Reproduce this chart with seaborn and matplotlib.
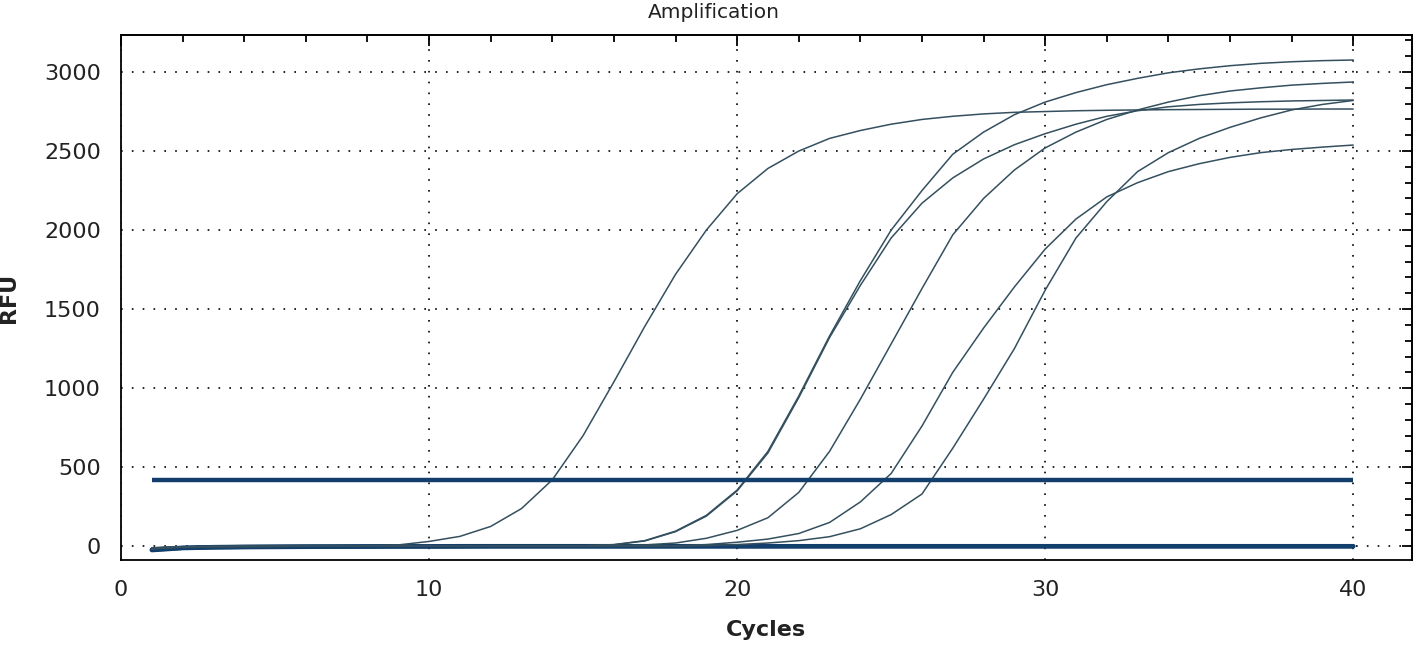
import matplotlib
matplotlib.use("Agg")
import matplotlib.pyplot as plt
import seaborn as sns
import pandas as pd
from matplotlib.ticker import MultipleLocator, NullFormatter

# ---------------- data ----------------
cycles = list(range(1, 41))

well_a = [-18, -6, -3, -2, -1, 0, 1, 2, 8, 30, 62, 125, 238, 420, 700, 1040, 1390, 1720, 2000, 2230,
          2390, 2500, 2580, 2630, 2670, 2700, 2720, 2735, 2745, 2750, 2755, 2758, 2760, 2762, 2763, 2764, 2765, 2765, 2766, 2766]
well_b = [-15, -5, -3, -2, -1, 0, 0, 0, 0, 0, 0, 0, 0, 1, 2, 10, 35, 95, 195, 355,
          600, 950, 1330, 1680, 2000, 2250, 2480, 2620, 2730, 2810, 2870, 2920, 2960, 2995, 3020, 3040, 3055, 3065, 3072, 3076]
well_c = [-14, -5, -3, -2, -1, 0, 0, 0, 0, 0, 0, 0, 0, 1, 2, 9, 33, 92, 190, 350,
          590, 940, 1320, 1650, 1950, 2170, 2330, 2450, 2540, 2610, 2670, 2720, 2755, 2780, 2795, 2805, 2812, 2817, 2820, 2823]
well_d = [-12, -4, -2, -1, -1, 0, 0, 0, 0, 0, 0, 0, 0, 0, 0, 2, 8, 20, 50, 100,
          180, 340, 600, 930, 1280, 1630, 1970, 2200, 2380, 2520, 2620, 2700, 2760, 2810, 2850, 2880, 2900, 2917, 2928, 2937]
well_e = [-10, -4, -2, -1, -1, 0, 0, 0, 0, 0, 0, 0, 0, 0, 0, 0, 0, 2, 10, 25,
          45, 80, 150, 280, 460, 760, 1100, 1380, 1640, 1880, 2070, 2210, 2300, 2370, 2420, 2460, 2490, 2510, 2525, 2538]
well_f = [-10, -4, -2, -1, -1, 0, 0, 0, 0, 0, 0, 0, 0, 0, 0, 0, 0, 0, 4, 10,
          20, 35, 60, 110, 200, 330, 620, 930, 1250, 1620, 1950, 2180, 2370, 2490, 2580, 2650, 2710, 2760, 2795, 2820]
ntc_1 = [-22, -10, -6, -4, -3, -2, -2, -1, -1, -1, 0, 0, 0, 0, 0, 0, 0, 0, 0, 0,
         0, 0, 0, 0, 0, 0, 0, 0, 0, 0, 0, 0, 0, 0, 0, 0, 0, 0, 0, 0]
ntc_2 = [-25, -12, -8, -6, -5, -4, -3, -3, -2, -2, -2, -1, -1, -1, -1, -1, -1, -1, -1, -1,
         -1, -1, -1, -1, -1, -1, -1, -1, -1, -1, -1, -1, -1, -1, -1, -1, -1, -1, -1, -1]
threshold = 420

amp_wells = {"A1": well_a, "A2": well_b, "A3": well_c, "A4": well_d, "A5": well_e, "A6": well_f}
neg_wells = {"N1": ntc_1, "N2": ntc_2}

amp_df = pd.concat([pd.DataFrame({"Cycle": cycles, "RFU": v, "Well": k}) for k, v in amp_wells.items()])
neg_df = pd.concat([pd.DataFrame({"Cycle": cycles, "RFU": v, "Well": k}) for k, v in neg_wells.items()])

# ---------------- plot ----------------
sns.set_theme(style="white")
plt.rcParams["font.family"] = ["DejaVu Sans"]

fig = plt.figure(figsize=(14.16, 6.49), dpi=100)
ax = fig.add_axes([0.0855, 0.137, 0.9115, 0.809])

navy = "#123f6c"
curve_col = "#34505f"

sns.lineplot(data=neg_df, x="Cycle", y="RFU", units="Well", estimator=None,
             color=navy, linewidth=3.2, ax=ax, legend=False)
sns.lineplot(data=amp_df, x="Cycle", y="RFU", units="Well", estimator=None,
             color=curve_col, linewidth=1.1, ax=ax, legend=False)
ax.hlines(threshold, cycles[0], cycles[-1], color=navy, linewidth=3.2, zorder=3)

ax.set_xlim(0, 41.9)
ax.set_ylim(-88, 3234)

ax.xaxis.set_major_locator(MultipleLocator(10))
ax.xaxis.set_minor_locator(MultipleLocator(2))
ax.yaxis.set_major_locator(MultipleLocator(500))
ax.yaxis.set_minor_locator(MultipleLocator(100))

ax.grid(True, which="major", color="black", linestyle=(0, (1, 5.5)), linewidth=1.2)
ax.set_axisbelow(True)

for s in ax.spines.values():
    s.set_color("black")
    s.set_linewidth(1.3)

ax.tick_params(axis="both", which="major", direction="inout", length=13, width=1.3,
               colors="black", labelsize=16, pad=8,
               top=False, right=False)
ax.tick_params(axis="both", which="minor", direction="inout", length=8, width=1.3,
               colors="black", top=False, right=False)
for t in ax.xaxis.get_ticklabels() + ax.yaxis.get_ticklabels():
    t.set_color("#222222")

# inward ticks on the top and right edges
sec_top = ax.secondary_xaxis("top")
sec_top.xaxis.set_major_locator(MultipleLocator(10))
sec_top.xaxis.set_minor_locator(MultipleLocator(2))
sec_top.xaxis.set_major_formatter(NullFormatter())
sec_top.tick_params(which="major", direction="in", length=8, width=1.3, colors="black")
sec_top.tick_params(which="minor", direction="in", length=5, width=1.3, colors="black")
sec_top.spines["top"].set_linewidth(1.3)

sec_right = ax.secondary_yaxis("right")
sec_right.yaxis.set_major_locator(MultipleLocator(500))
sec_right.yaxis.set_minor_locator(MultipleLocator(100))
sec_right.yaxis.set_major_formatter(NullFormatter())
sec_right.tick_params(which="major", direction="in", length=7, width=1.3, colors="black")
sec_right.tick_params(which="minor", direction="in", length=5, width=1.3, colors="black")
sec_right.spines["right"].set_linewidth(1.3)

ax.set_xlabel("Cycles", fontsize=16, fontweight="bold", labelpad=14, color="#222222")
ax.set_ylabel("RFU", fontsize=16, fontweight="bold", labelpad=18, color="#222222")
fig.text(0.504, 0.981, "Amplification", ha="center", va="center", fontsize=14.5, color="#222222")

fig.savefig("out.png", dpi=100)
